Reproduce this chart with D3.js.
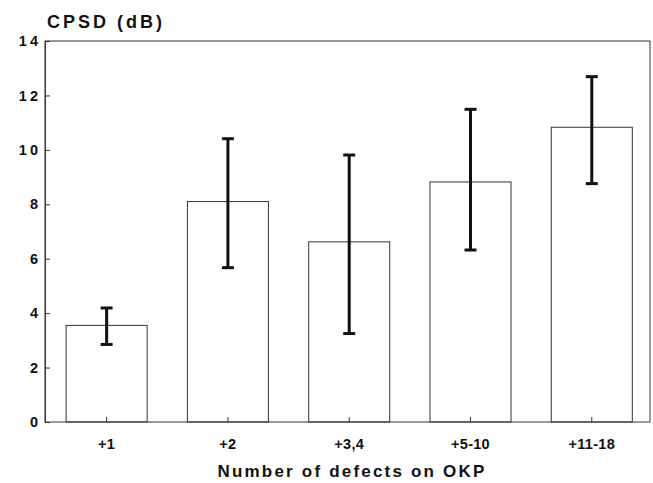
<!DOCTYPE html>
<html>
<head>
<meta charset="utf-8">
<script src="https://cdn.jsdelivr.net/npm/d3@7"></script>
<style>
  body { margin: 0; background: #fff; }
  svg { display: block; }
  text { font-family: "Liberation Sans", Arial, Helvetica, sans-serif; font-weight: bold; fill: #111; }
</style>
</head>
<body>
<div id="chart"></div>
<script>
// Data
const categories = ['+1', '+2', '+3,4', '+5-10', '+11-18'];
const means = [3.55, 8.1, 6.62, 8.82, 10.83];
const errLow = [2.85, 5.67, 3.25, 6.32, 8.76];
const errHigh = [4.19, 10.41, 9.81, 11.49, 12.69];
const yTicks = [0, 2, 4, 6, 8, 10, 12, 14];

const width = 653;
const height = 483;
const margin = { top: 41, right: 3, bottom: 61, left: 45 };

const svg = d3.select('#chart')
    .append('svg')
    .attr('width', width)
    .attr('height', height);

const x = d3.scaleBand()
    .domain(categories)
    .range([margin.left, width - margin.right])
    .paddingInner(0.332)
    .paddingOuter(0.16)
    .align(0.544);

const y = d3.scaleLinear()
    .domain([0, 14])
    .range([height - margin.bottom, margin.top]);

const data = categories.map((c, i) => ({ c, m: means[i], lo: errLow[i], hi: errHigh[i] }));

// plot frame
svg.append('rect')
    .attr('x', margin.left)
    .attr('y', y(14))
    .attr('width', width - margin.right - margin.left)
    .attr('height', y(0) - y(14))
    .attr('fill', 'none')
    .attr('stroke', '#333')
    .attr('stroke-width', 1);

// y axis (ticks pointing inwards)
const yAxis = svg.append('g')
    .attr('transform', `translate(${margin.left},0)`)
    .call(d3.axisRight(y).tickValues(yTicks).tickSize(5).tickFormat(d3.format('d')));
yAxis.select('.domain').attr('stroke', '#333');
yAxis.selectAll('.tick line').attr('stroke', '#333');
yAxis.selectAll('.tick text')
    .attr('x', -4)
    .attr('text-anchor', 'end')
    .style('font-size', '14.5px')
    .style('letter-spacing', '3px');

// x axis (ticks pointing up)
const xAxis = svg.append('g')
    .attr('transform', `translate(0,${y(0)})`)
    .call(d3.axisTop(x).tickSize(5));
xAxis.select('.domain').remove();
xAxis.selectAll('.tick line').attr('stroke', '#333');
xAxis.selectAll('.tick text')
    .attr('y', 22.5)
    .attr('dy', '0.32em')
    .style('font-size', '14.5px')
    .style('letter-spacing', '0.3px');

// bars
svg.append('g')
    .selectAll('rect')
    .data(data)
    .join('rect')
    .attr('x', d => x(d.c))
    .attr('y', d => y(d.m))
    .attr('width', x.bandwidth())
    .attr('height', d => y(0) - y(d.m))
    .attr('fill', 'none')
    .attr('stroke', '#333')
    .attr('stroke-width', 1);

// error bars
const eb = svg.append('g')
    .attr('stroke', '#111')
    .attr('stroke-width', 3)
    .selectAll('g')
    .data(data)
    .join('g')
    .attr('transform', d => `translate(${x(d.c) + x.bandwidth() / 2},0)`);
eb.append('line').attr('y1', d => y(d.lo)).attr('y2', d => y(d.hi));
eb.append('line').attr('x1', -6).attr('x2', 6).attr('y1', d => y(d.hi)).attr('y2', d => y(d.hi));
eb.append('line').attr('x1', -6).attr('x2', 6).attr('y1', d => y(d.lo)).attr('y2', d => y(d.lo));

// axis titles
svg.append('text')
    .attr('x', 47)
    .attr('y', 28)
    .style('font-size', '18px')
    .style('letter-spacing', '3px')
    .text('CPSD (dB)');

svg.append('text')
    .attr('x', 352)
    .attr('y', 477)
    .attr('text-anchor', 'middle')
    .style('font-size', '17px')
    .style('letter-spacing', '2.2px')
    .text('Number of defects on OKP');
</script>
</body>
</html>
